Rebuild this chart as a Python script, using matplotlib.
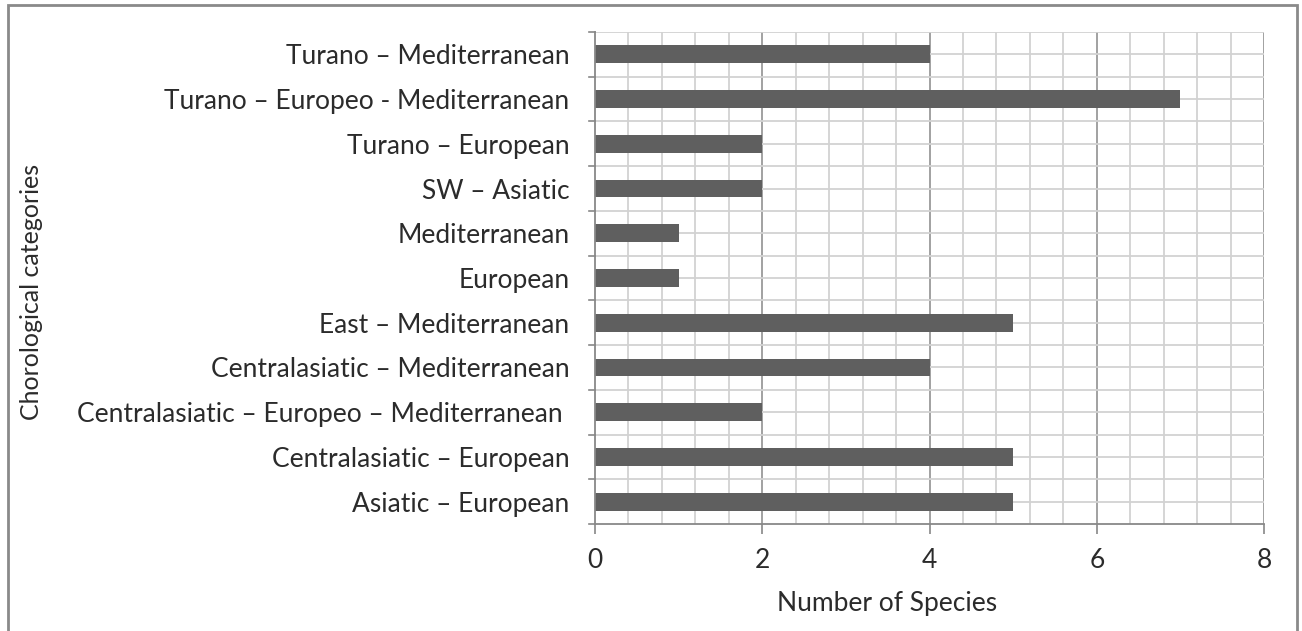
import matplotlib
matplotlib.use("Agg")
import matplotlib.pyplot as plt
from matplotlib.patches import Rectangle
import numpy as np

categories = [
    "Asiatic – European",
    "Centralasiatic – European",
    "Centralasiatic – Europeo – Mediterranean ",
    "Centralasiatic – Mediterranean",
    "East – Mediterranean",
    "European",
    "Mediterranean",
    "SW – Asiatic",
    "Turano – European",
    "Turano – Europeo - Mediterranean",
    "Turano – Mediterranean",
]
species = [5, 5, 2, 4, 5, 1, 1, 2, 2, 7, 4]
xticks = [0, 2, 4, 6, 8]

plt.rcParams["font.family"] = ["Lato", "DejaVu Sans"]
FS = 19
TXT = "#2b2b2b"

fig = plt.figure(figsize=(13.02, 6.31), dpi=100)
ax = fig.add_axes([595 / 1302, 1 - 524 / 631, (1264 - 595) / 1302, (524 - 32) / 631])

y = np.arange(len(categories))
ax.barh(y, species, height=0.4, color="#5f5f5f", zorder=3)

n = len(categories)
ax.set_ylim(-0.5, n - 0.5)
ax.set_xlim(0, 8)

ax.set_xticks(xticks)
ax.set_xticklabels([str(v) for v in xticks])
ax.set_yticks(y)
ax.set_yticklabels(categories)

# grid: vertical every 0.4 (darker at majors), horizontal every half category
for xv in np.arange(0.4, 8.01, 0.4):
    is_major = abs(xv / 2 - round(xv / 2)) < 1e-6
    ax.axvline(xv, color="#9a9a9a" if is_major else "#d2d2d2",
               lw=1.3, zorder=1)
for yv in np.arange(0.0, n - 0.4, 0.5):
    ax.axhline(yv, color="#d2d2d2", lw=1.3, zorder=1)

ax.tick_params(axis="y", length=0, pad=18.5, labelsize=FS, labelcolor=TXT)
ax.tick_params(axis="x", length=7, color="#888888", width=1.2,
               labelsize=FS, pad=10, labelcolor=TXT)
# category tick marks at boundaries
for b in np.arange(-0.5, n, 1.0):
    ax.plot([-0.075, 0], [b, b], color="#888888", lw=1.2, clip_on=False, zorder=4)

for s in ["top", "right"]:
    ax.spines[s].set_visible(False)
for s in ["left", "bottom"]:
    ax.spines[s].set_color("#888888")
    ax.spines[s].set_linewidth(1.3)
    ax.spines[s].set_zorder(4)

fig.text(887 / 1302, 1 - 604 / 631, "Number of Species", ha="center", va="center",
         fontsize=FS, color=TXT)
fig.text(32 / 1302, 1 - 292 / 631, "Chorological categories", ha="center",
         va="center", rotation=90, fontsize=18, color=TXT)

# outer frame
fig.patches.append(Rectangle((8 / 1302, -0.05), (1297 - 8) / 1302, 1.05 - 5 / 631,
                             transform=fig.transFigure, fill=False,
                             edgecolor="#8a8a8a", lw=2))

fig.savefig("out.png", dpi=100)
